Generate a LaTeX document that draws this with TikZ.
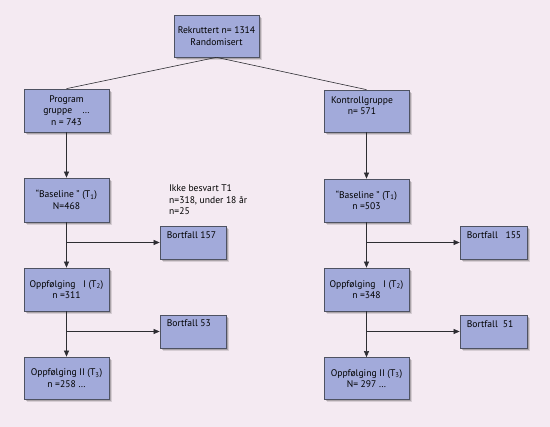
\documentclass[tikz,border=0pt]{standalone}
\usepackage{fontspec}
\setmainfont{PT Sans}
\usetikzlibrary{arrows.meta,shadows}
\definecolor{bg}{RGB}{244,234,242}
\definecolor{boxfill}{RGB}{162,170,218}
\definecolor{boxline}{RGB}{78,82,98}
\definecolor{lineclr}{RGB}{45,45,50}
\begin{document}
\begin{tikzpicture}[x=1pt,y=-1pt,
  font=\fontsize{9.6}{11.5}\selectfont,
  box/.style={draw=boxline, line width=0.7pt, fill=boxfill,
    minimum width=85pt, minimum height=43pt, inner sep=0pt,
    align=center, text=black,
    drop shadow={shadow xshift=3pt, shadow yshift=-3pt, opacity=0.12, fill=black},
    drop shadow={shadow xshift=1.8pt, shadow yshift=-1.8pt, opacity=0.2, fill=black}},
  smallbox/.style={box, minimum width=66pt, minimum height=33pt},
  txt/.style={inner sep=0pt, text=black},
  conn/.style={draw=lineclr, line width=0.6pt},
  arr/.style={conn, -{Triangle[length=6pt,width=5pt]}}]
\fill[bg] (0,0) rectangle (550,427);
\useasboundingbox (0,0) rectangle (550,427);

% main boxes
\node[box, minimum height=42pt] (top) at (216.5,36) {Rekruttert n= 1314\\Randomisert};
\node[box] (prog) at (66.5,110.5) {Program\\gruppe\ \ \ \ …\\n = 743};
\node[box, minimum height=42pt] (kont) at (366.5,111) {};
\node[txt, align=center] (konttxt) at (362,105.5) {Kontrollgruppe\\n= 571};
\node[box, minimum height=44pt] (baseL) at (66.5,200) {“Baseline ” (T\textsubscript{1})\\N=468};
\node[box] (baseR) at (366.5,200.5) {“Baseline ” (T\textsubscript{1})\\n =503};
\node[box] (oppIL) at (66.5,289.5) {Oppfølging\ \ \ I (T\textsubscript{2})\\n =311};
\node[box] (oppIR) at (366.5,289.5) {Oppfølging\ \ \ I (T\textsubscript{2})\\n =348};
\node[box, minimum height=42pt] (oppIIL) at (66.5,378) {Oppfølging II (T\textsubscript{3})\\n =258 …};
\node[box, minimum height=42pt] (oppIIR) at (366.5,378.5) {Oppfølging II (T\textsubscript{3})\\N= 297 …};

% dropout boxes
\node[smallbox] (b157) at (193,242.5) {};
\node[smallbox, minimum width=67pt] (b155) at (493.5,242.5) {};
\node[smallbox] (b53) at (193,331.5) {};
\node[smallbox, minimum width=67pt] (b51) at (493.5,331.5) {};
\node[txt, anchor=west] (t157) at ([shift={(7,9)}]b157.north west) {Bortfall 157};
\node[txt, anchor=west] (t155) at ([shift={(7,9)}]b155.north west) {Bortfall\ \ \ 155};
\node[txt, anchor=west] (t53) at ([shift={(7,9)}]b53.north west) {Bortfall 53};
\node[txt, anchor=west] (t51) at ([shift={(7,9)}]b51.north west) {Bortfall\ \ 51};

\node[txt, align=left, anchor=north west] (ikke) at (169,184.5) {Ikke besvart T1\\n=318, under 18 år\\n=25};

% connectors
\draw[conn] (top.south) -- (prog.north);
\draw[conn] (top.south) -- (kont.north);
\draw[arr] (prog) -- (baseL);
\draw[arr] (baseL) -- (oppIL);
\draw[arr] (oppIL) -- (oppIIL);
\draw[arr] (kont) -- (baseR);
\draw[arr] (baseR) -- (oppIR);
\draw[arr] (oppIR) -- (oppIIR);

\coordinate (jL1) at (baseL.south |- b157.west);
\coordinate (jL2) at (oppIL.south |- b53.west);
\coordinate (jR1) at (baseR.south |- b155.west);
\coordinate (jR2) at (oppIR.south |- b51.west);
\draw[arr] (jL1) -- (b157.west);
\draw[arr] (jL2) -- (b53.west);
\draw[arr] (jR1) -- (b155.west);
\draw[arr] (jR2) -- (b51.west);
\end{tikzpicture}
\end{document}
